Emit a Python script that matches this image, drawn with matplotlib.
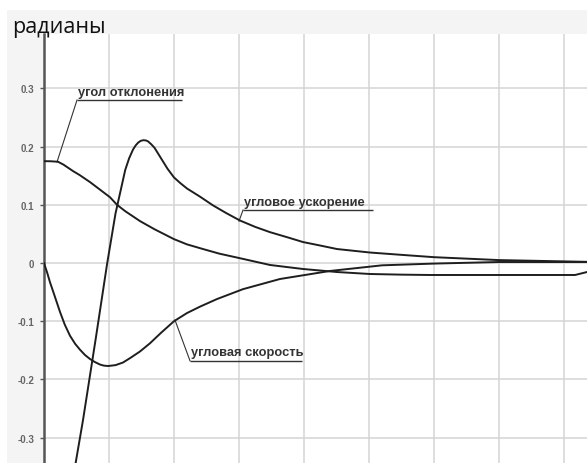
import numpy as np
import matplotlib.pyplot as plt
from matplotlib.patches import Rectangle

# угол отклонения
angle_t = [0, 0.1, 0.215, 0.3, 0.446, 0.55, 0.708, 0.85, 1.015, 1.123, 1.25, 1.477, 1.7,
           2.0, 2.2, 2.446, 2.7, 3.0, 3.477, 3.985, 4.508, 5.015, 5.5, 5.938, 7.0, 8.17, 8.354]
angle_v = [0.175, 0.1748, 0.174, 0.169, 0.158, 0.151, 0.139, 0.127, 0.113, 0.100, 0.089,
           0.072, 0.058, 0.041, 0.032, 0.024, 0.016, 0.0086, -0.0034, -0.0103, -0.0155,
           -0.0189, -0.0200, -0.0206, -0.0206, -0.0206, -0.0155]

# угловая скорость
speed_t = [0, 0.05, 0.092, 0.15, 0.246, 0.32, 0.4, 0.48, 0.554, 0.63, 0.708, 0.78, 0.862,
           0.92, 0.985, 1.1, 1.215, 1.33, 1.477, 1.63, 1.8, 2.0, 2.2, 2.4, 2.66, 3.06,
           3.63, 4.4, 5.2, 6.0, 7.0, 8.354]
speed_v = [0, -0.017, -0.033, -0.052, -0.084, -0.106, -0.125, -0.139, -0.149, -0.158,
           -0.165, -0.170, -0.1745, -0.1763, -0.177, -0.1755, -0.171, -0.163, -0.152, -0.138,
           -0.120, -0.100, -0.086, -0.075, -0.062, -0.045, -0.0275, -0.0137, -0.004,
           -0.001, 0.0017, 0.0017]

# угловое ускорение
accel_t = [0.40, 0.60, 0.80, 0.97, 1.10, 1.25, 1.31, 1.37, 1.41, 1.45, 1.49, 1.53, 1.57,
           1.60, 1.65, 1.70, 1.75, 1.80, 1.90, 2.00, 2.10, 2.20, 2.40, 2.60, 2.80, 3.015,
           3.25, 3.477, 3.75, 3.985, 4.25, 4.508, 5.015, 5.5, 6.0, 7.0, 8.354]
accel_v = [-0.400, -0.270, -0.127, -0.002, 0.085, 0.160, 0.180, 0.195, 0.202, 0.207, 0.210,
           0.211, 0.2105, 0.209, 0.204, 0.198, 0.189, 0.180, 0.162, 0.147, 0.137, 0.128,
           0.114, 0.099, 0.086, 0.073, 0.062, 0.053, 0.044, 0.036, 0.030, 0.024, 0.018,
           0.014, 0.010, 0.005, 0.002]

y_ticks = [-0.3, -0.2, -0.1, 0, 0.1, 0.2, 0.3]
y_tick_labels = ["-0.3", "-0.2", "-0.1", "0", "0.1", "0.2", "0.3"]

line_color = "#1e1e1e"
label_font = "Liberation Sans"


def callout(ax, text, x0, x1, y, tx, ty):
    # underlined caption with a thin leader line to the curve
    ax.text(x0 + 0.01, y + 0.004, text, fontsize=9.3, fontweight="bold",
            family=label_font, color="#333333", va="bottom", ha="left")
    ax.plot([x0, x1], [y, y], color="#333333", linewidth=1.0, solid_capstyle="butt")
    ax.plot([x0, tx], [y, ty], color="#333333", linewidth=0.8)


fig = plt.figure(figsize=(5.87, 4.64), dpi=100, facecolor="white")
fig.patches.append(Rectangle((7 / 587, 0), 1 - 7 / 587, 1 - 11 / 464,
                             transform=fig.transFigure, facecolor="#f4f4f4",
                             edgecolor="none", zorder=-5))

ax = fig.add_axes([44 / 587, 0, 1 - 44 / 587, 1 - 35 / 464])
ax.set_zorder(2)
ax.set_facecolor("white")

ax.plot(angle_t, angle_v, color=line_color, linewidth=1.4, zorder=3)
ax.plot(speed_t, speed_v, color=line_color, linewidth=1.4, zorder=3)
ax.plot(accel_t, accel_v, color=line_color, linewidth=1.4, zorder=3)

ax.set_xlim(0, 543 / 65)
ax.set_ylim(-200 / 582, 229 / 582)

ax.set_xticks(np.arange(0, 9))
ax.set_yticks(y_ticks)
ax.set_yticklabels(y_tick_labels)
ax.tick_params(axis="x", length=0, labelbottom=False)
ax.tick_params(axis="y", length=3, width=1, color="#555555", pad=4,
               labelsize=7, labelcolor="#666666")
for lbl in ax.get_yticklabels():
    lbl.set_fontweight("bold")
    lbl.set_family(label_font)

ax.grid(True, color="#d4d4d4", linewidth=1.1)
ax.set_axisbelow(True)
for side in ["top", "right", "bottom"]:
    ax.spines[side].set_visible(False)
ax.spines["left"].set_color("#555555")
ax.spines["left"].set_linewidth(1.8)

callout(ax, "угол отклонения", 0.508, 2.12, 0.280, 0.20, 0.1735)
callout(ax, "угловое ускорение", 3.062, 5.06, 0.091, 3.0, 0.072)
callout(ax, "угловая скорость", 2.246, 3.97, -0.168, 2.015, -0.098)

fig.text(12 / 587, 1 - 33 / 464, "радианы", fontsize=15.5, family="Open Sans",
         color="#111111", va="baseline", ha="left", zorder=5)

fig.savefig("out.png", dpi=100, facecolor=fig.get_facecolor())
